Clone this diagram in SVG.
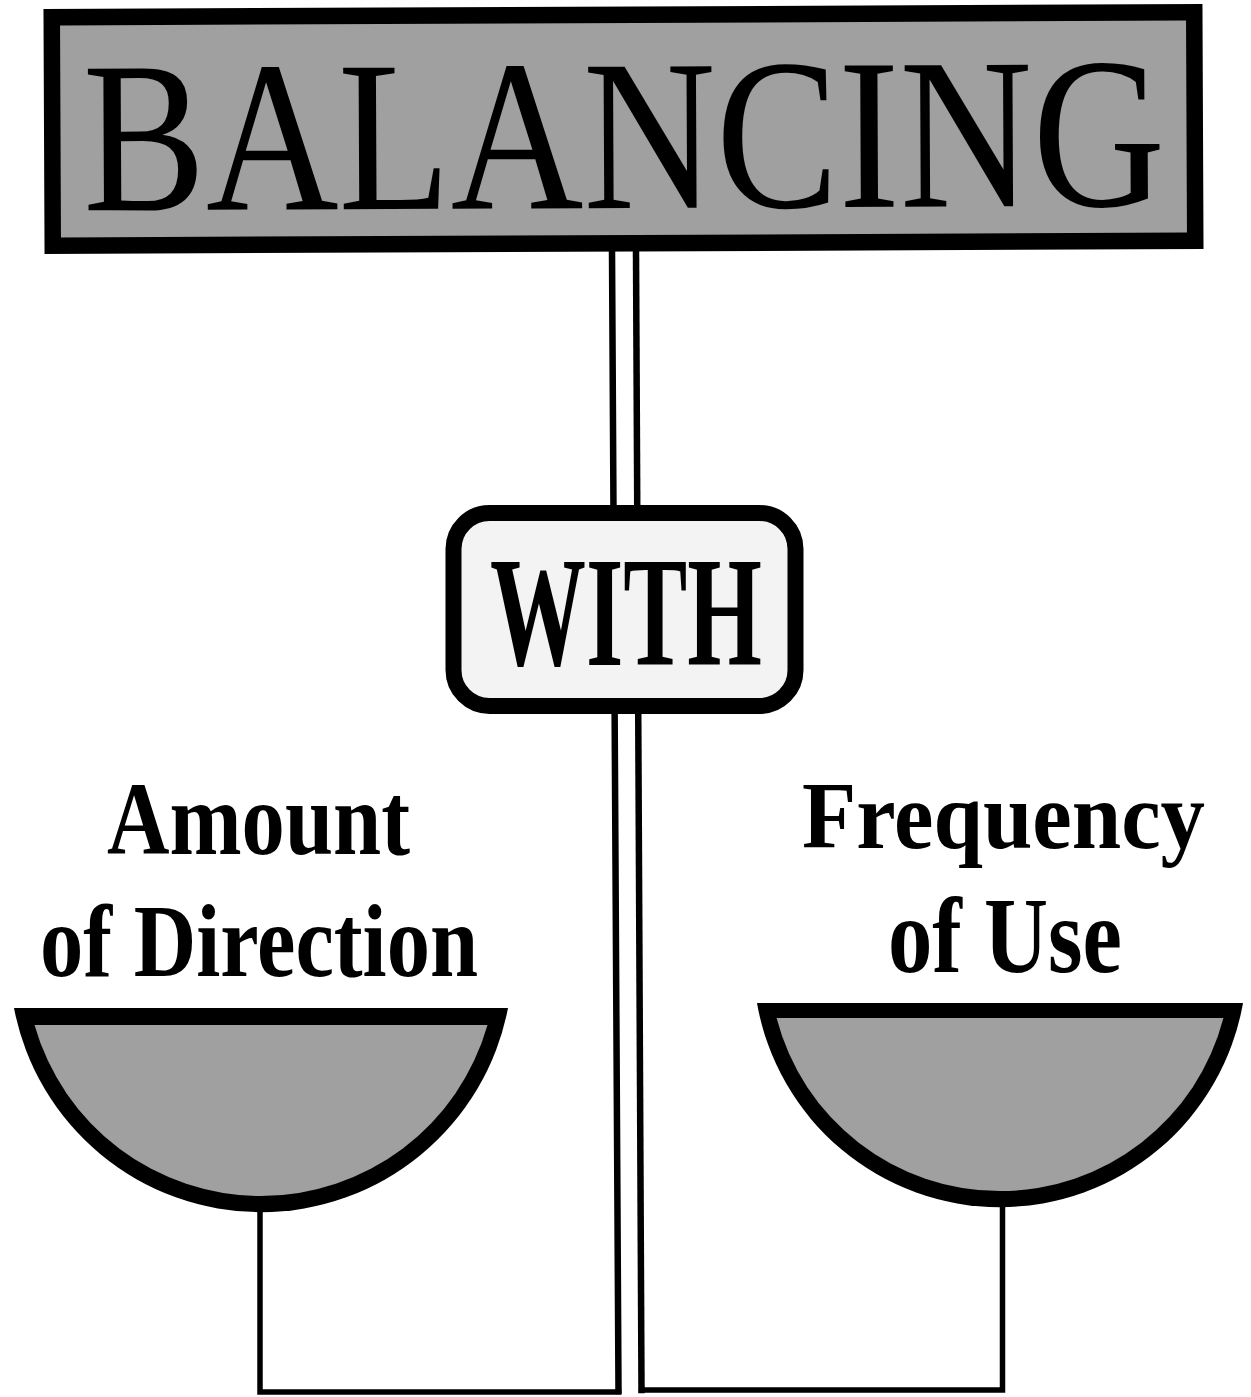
<svg xmlns="http://www.w3.org/2000/svg" width="1251" height="1397" viewBox="0 0 1251 1397">
  <style>
    .gray { fill: #a0a0a0; }
    .ink { fill: #000; }
    .line { stroke: #000; fill: none; stroke-linecap: square; }
    .serif { font-family: "Liberation Serif", "Times New Roman", serif; fill: #000; }
    .bold { font-weight: bold; }
  </style>
  <rect width="1251" height="1397" fill="#fff"/>

  <g id="connectors">
    <line class="line" x1="612" y1="250" x2="618.5" y2="1391" stroke-width="6.5"/>
    <line class="line" x1="636" y1="250" x2="641.5" y2="1390" stroke-width="6.5"/>
    <polyline class="line" points="260,1212 260,1392 618.5,1392" stroke-width="5.5"/>
    <polyline class="line" points="1002.5,1206 1002.5,1390 641.5,1390" stroke-width="5.5"/>
  </g>

  <g id="title" transform="rotate(-0.25 623 129)">
    <rect x="52.25" y="14.75" width="1142.5" height="228.5" class="gray" stroke="#000" stroke-width="16.5"/>
    <text class="serif" x="0" y="0" font-size="184" textLength="1082" lengthAdjust="spacingAndGlyphs" transform="translate(83 208) scale(1 1.174)">BALANCING</text>
  </g>

  <g id="with">
    <rect x="453.5" y="513" width="342" height="193" rx="36" ry="36" fill="#f3f3f3" stroke="#000" stroke-width="16"/>
    <text class="serif bold" x="490" y="665" font-size="156" textLength="272" lengthAdjust="spacingAndGlyphs">WITH</text>
  </g>

  <g id="left-label">
    <text class="serif bold" x="107" y="854" font-size="104" textLength="303" lengthAdjust="spacingAndGlyphs">Amount</text>
    <text class="serif bold" x="40" y="976" font-size="104" textLength="438" lengthAdjust="spacingAndGlyphs">of Direction</text>
  </g>

  <g id="right-label">
    <text class="serif bold" x="802" y="848" font-size="96" textLength="403" lengthAdjust="spacingAndGlyphs">Frequency</text>
    <text class="serif bold" x="888" y="972" font-size="108" textLength="234" lengthAdjust="spacingAndGlyphs">of Use</text>
  </g>

  <g id="left-pan">
    <path class="ink" d="M14,1008 L508,1008 A251.5,251.5 0 0 1 14,1008 Z"/>
    <path class="gray" d="M34.5,1025 L487.5,1025 A235.5,235.5 0 0 1 34.5,1025 Z"/>
  </g>

  <g id="right-pan">
    <path class="ink" d="M757,1003 L1243,1003 A246.7,246.7 0 0 1 757,1003 Z"/>
    <path class="gray" d="M776.6,1018 L1223.4,1018 A230.7,230.7 0 0 1 776.6,1018 Z"/>
  </g>
</svg>
